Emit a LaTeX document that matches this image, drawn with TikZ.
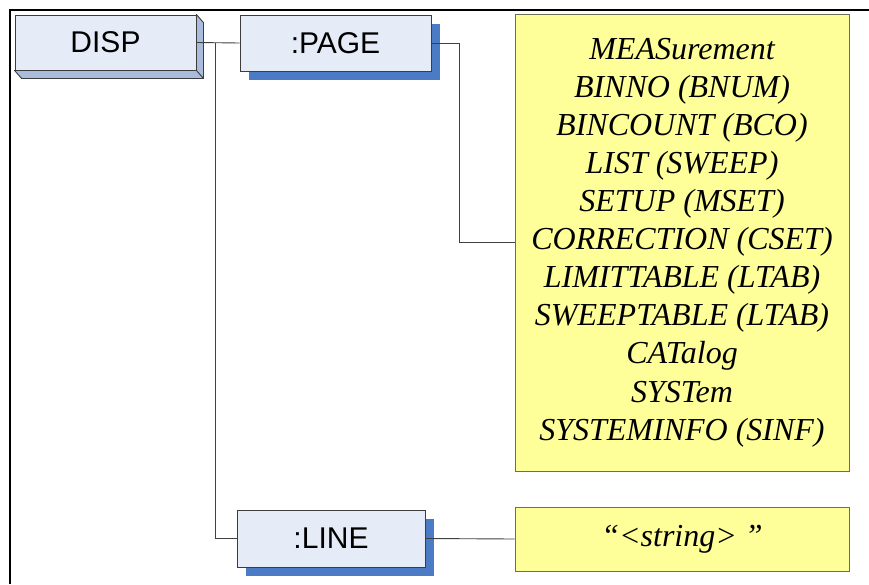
\documentclass[tikz,border=0pt]{standalone}
\usepackage{fontspec}
\setmainfont{Liberation Serif}
\newfontfamily\arialf{Liberation Sans}
\usetikzlibrary{shadows}
\definecolor{boxfill}{HTML}{E6ECF7}
\definecolor{boxline}{HTML}{3C3C3C}
\definecolor{shadowblue}{HTML}{4A7BC4}
\definecolor{sideblue}{HTML}{A9BCDB}
\definecolor{yel}{HTML}{FFFF99}
\definecolor{yelline}{HTML}{6E6E50}
\definecolor{conn}{HTML}{404040}
\begin{document}
\begin{tikzpicture}[x=1pt,y=-1pt,
  cmdbox/.style={draw=boxline, line width=0.9pt, fill=boxfill, inner sep=0pt,
     font=\arialf\fontsize{30}{32}\selectfont},
  shadowed/.style={general shadow={fill=shadowblue, shadow xshift=9pt, shadow yshift=-9pt}},
  ybox/.style={draw=yelline, line width=0.9pt, fill=yel, inner sep=0pt, align=center,
     font=\itshape\fontsize{32}{38.1}\selectfont},
  connector/.style={draw=conn, line width=0.9pt}]
\useasboundingbox (0,0) rectangle (869,584);
% frame
\draw[line width=2.2pt] (10,584) -- (10,10) -- (869,10);
% DISP with 3D extrusion
\node[cmdbox, minimum width=181pt, minimum height=55pt] (disp) at (105.5,42.5) {DISP};
\filldraw[fill=sideblue, draw=boxline, line width=0.9pt, line join=round]
  (disp.north east) -- ([shift={(7,8)}]disp.north east) -- ([shift={(7,8)}]disp.south east)
  -- ([shift={(7,8)}]disp.south west) -- (disp.south west) -- (disp.south east) -- cycle;
\draw[boxline, line width=0.9pt] (disp.south east) -- ([shift={(7,8)}]disp.south east);
% PAGE and LINE
\node[cmdbox, shadowed, minimum width=191pt, minimum height=56pt] (page) at (335.5,43) {:PAGE};
\node[cmdbox, shadowed, minimum width=188pt, minimum height=57pt] (line) at (331,538.5) {:LINE};
% yellow boxes
\node[ybox, minimum width=334pt, minimum height=457pt] (y1) at (682,242.5)
  {MEASurement\\BINNO (BNUM)\\BINCOUNT (BCO)\\LIST (SWEEP)\\SETUP (MSET)\\CORRECTION (CSET)\\LIMITTABLE (LTAB)\\SWEEPTABLE (LTAB)\\CATalog\\SYSTem\\SYSTEMINFO (SINF)};
\node[ybox, minimum width=334pt, minimum height=64pt] (y2) at (682,539) {“<string> ”};
% connectors
\coordinate (j) at (215,42.5);
\draw[connector] (disp.east) -- (page.west);
\draw[connector] (j) |- (line.west);
\draw[connector] (page.east) -- ++(28,0) |- (y1.west);
\draw[connector] (line.east) -- (y2.west);
\end{tikzpicture}
\end{document}
